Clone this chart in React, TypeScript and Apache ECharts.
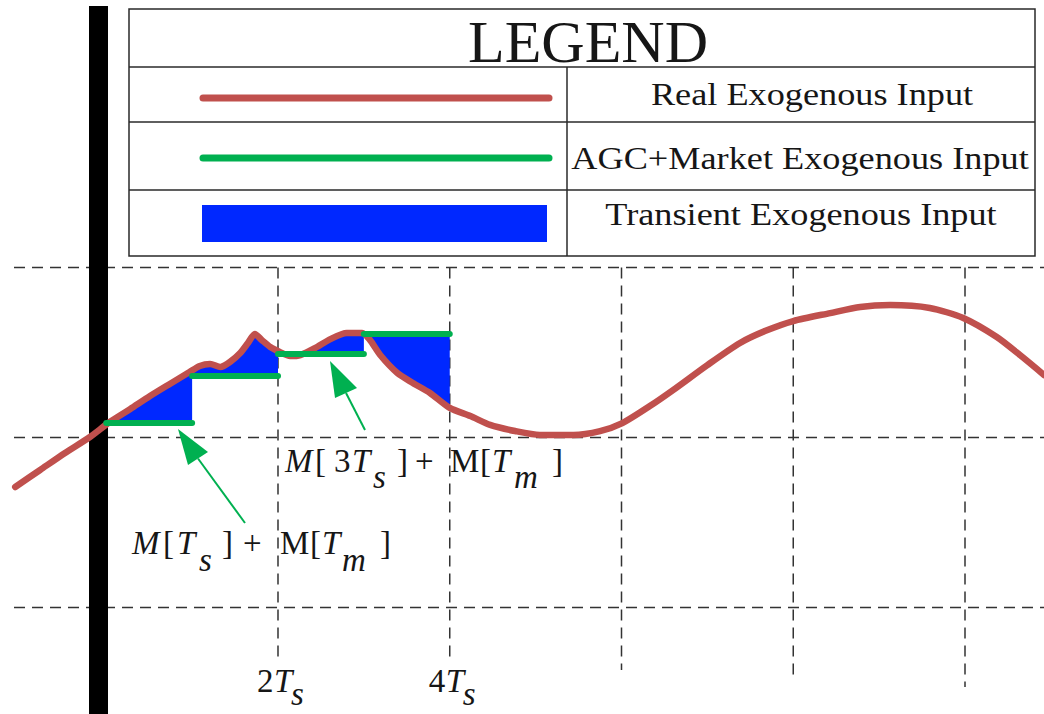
import React, { useEffect, useRef } from "react";
import * as echarts from "echarts";

const W = 1044;
const H = 714;

// Time in units of Ts, value in arbitrary units (grid lines at 0, 1, 2)
const redT = [-1.06, -0.77, -0.48, -0.19, 0.04, 0.28, 0.51, 0.74, 0.97, 1.09, 1.21, 1.33, 1.44, 1.56, 1.65, 1.73, 1.81, 1.91, 2.02, 2.14, 2.26, 2.43, 2.61, 2.8, 2.98, 3.07, 3.19, 3.39, 3.57, 3.77, 4.0, 4.24, 4.47, 4.76, 5.05, 5.44, 5.75, 6.01, 6.33, 6.6, 7.0, 7.38, 7.67, 8.0, 8.43, 8.78, 9.13, 9.59, 9.98, 10.37, 10.64, 10.92];
const redV = [0.709, 0.809, 0.909, 1.003, 1.091, 1.168, 1.244, 1.315, 1.385, 1.421, 1.432, 1.415, 1.444, 1.497, 1.556, 1.609, 1.574, 1.532, 1.503, 1.479, 1.485, 1.526, 1.579, 1.615, 1.615, 1.574, 1.485, 1.379, 1.321, 1.262, 1.174, 1.126, 1.074, 1.038, 1.015, 1.015, 1.038, 1.085, 1.185, 1.279, 1.426, 1.556, 1.626, 1.685, 1.732, 1.768, 1.779, 1.762, 1.703, 1.591, 1.485, 1.368];

const stepStarts = [0, 1, 2, 3];
const stepLevels = [1.085, 1.362, 1.491, 1.609];

const gridTimes = [2, 4, 6, 8, 10];
const gridLevels = [0, 1, 2];
const tickTimes = [2, 4];
const tickDigits = ["2", "4"];

const legendTitle = "LEGEND";
const legendLabels = ["Real Exogenous Input", "AGC+Market Exogenous Input", "Transient Exogenous Input"];

// axis extents (t = 0 at 106.25px, 85.875px per Ts; v = 0 at 607.5px, 170px per unit)
const X_MIN = -1.23726;
const X_MAX = 10.91994;
const Y_MIN = -0.62647;
const Y_MAX = 3.57353;

const BLUE = "#0028FF";
const RED = "#C0504D";
const GREEN = "#00B050";
const INK = "#161616";
const GRIDC = "#333333";
const FONT = '"Liberation Serif", "Times New Roman", serif';

export default function App() {
  const ref = useRef<HTMLDivElement>(null);

  useEffect(() => {
    const chart = echarts.init(ref.current!, null, { renderer: "svg" });
    const redData = redT.map((t, i) => [t, redV[i]]);
    const redAt = (t: number) => {
      for (let i = 0; i < redData.length - 1; i++) {
        const [a, va] = redData[i];
        const [b, vb] = redData[i + 1];
        if (t >= a && t <= b) return va + ((vb - va) * (t - a)) / (b - a);
      }
      return redData[redData.length - 1][1];
    };

    chart.setOption({
      animation: false,
      grid: { left: 0, right: 0, top: 0, bottom: 0 },
      xAxis: { type: "value", min: X_MIN, max: X_MAX, show: false },
      yAxis: { type: "value", min: Y_MIN, max: Y_MAX, show: false },
      series: [
        {
          type: "custom",
          z: 2,
          data: stepStarts.map((t, i) => [t, stepLevels[i]]),
          encode: { x: 0, y: 1 },
          renderItem: (params: any, api: any) => {
            const i = params.dataIndex;
            const t0 = stepStarts[i];
            const t1 = t0 + 1;
            const g = stepLevels[i];
            const pts: number[][] = [];
            pts.push(api.coord([t0, redAt(t0)]));
            redData.forEach(([t, v]) => {
              if (t > t0 && t < t1) pts.push(api.coord([t, v]));
            });
            pts.push(api.coord([t1, redAt(t1)]));
            pts.push(api.coord([t1, g]));
            pts.push(api.coord([t0, g]));
            return { type: "polygon", shape: { points: pts }, style: { fill: BLUE } };
          },
        },
        {
          type: "line",
          z: 3,
          data: redData,
          showSymbol: false,
          smooth: 0.25,
          lineStyle: { color: RED, width: 6.5, cap: "round", join: "round" },
        },
        {
          type: "custom",
          z: 4,
          data: stepStarts.map((t, i) => [t, stepLevels[i]]),
          encode: { x: 0, y: 1 },
          renderItem: (params: any, api: any) => {
            const i = params.dataIndex;
            const a = api.coord([stepStarts[i], stepLevels[i]]);
            const b = api.coord([stepStarts[i] + 1, stepLevels[i]]);
            return {
              type: "line",
              shape: { x1: a[0], y1: a[1], x2: b[0], y2: b[1] },
              style: { stroke: GREEN, lineWidth: 6, lineCap: "round" },
            };
          },
        },
      ],
    });

    const P = (t: number, v: number) => chart.convertToPixel({ gridIndex: 0 }, [t, v]) as number[];
    const els: any[] = [];
    const dash = { stroke: GRIDC, lineWidth: 1.5, lineDash: [11, 7] };

    gridLevels.forEach((v) => {
      const y = P(0, v)[1];
      els.push({ type: "line", z: 0, shape: { x1: 14, y1: y, x2: W, y2: y }, style: dash });
    });
    const vEnds = [660, 660, 670, 678, 687];
    const topY = P(0, 2)[1];
    gridTimes.forEach((t, i) => {
      const x = P(t, 0)[0];
      els.push({ type: "line", z: 0, shape: { x1: x, y1: topY, x2: x, y2: vEnds[i] }, style: dash });
    });

    // thick black vertical bar
    els.push({ type: "rect", z: 1, shape: { x: 89, y: 6, width: 19, height: H - 6 }, style: { fill: "#000" } });

    // legend box
    const lb = { stroke: "#2a2a2a", lineWidth: 1.5 };
    els.push({ type: "rect", z: 5, shape: { x: 129, y: 9, width: 906, height: 247 }, style: { fill: "#fff", ...lb } });
    [67, 122, 190].forEach((y) => els.push({ type: "line", z: 5, shape: { x1: 129, y1: y, x2: 1035, y2: y }, style: lb }));
    els.push({ type: "line", z: 5, shape: { x1: 567, y1: 67, x2: 567, y2: 256 }, style: lb });
    els.push({ type: "line", z: 6, shape: { x1: 203, y1: 98, x2: 549, y2: 98 }, style: { stroke: RED, lineWidth: 7, lineCap: "round" } });
    els.push({ type: "line", z: 6, shape: { x1: 203, y1: 158, x2: 549, y2: 158 }, style: { stroke: GREEN, lineWidth: 7, lineCap: "round" } });
    els.push({ type: "rect", z: 6, shape: { x: 202, y: 205, width: 345, height: 37 }, style: { fill: BLUE } });
    els.push({
      type: "text", z: 6, x: 588, y: 42,
      style: { text: legendTitle, font: `60px ${FONT}`, fill: INK, align: "center", verticalAlign: "middle" },
    });
    const lx = [812, 800, 801];
    const ly = [94, 158, 214];
    legendLabels.forEach((s, i) => {
      els.push({
        type: "text", z: 6, x: lx[i], y: ly[i], scaleX: 1.17,
        style: { text: s, font: `31px ${FONT}`, fill: INK, align: "center", verticalAlign: "middle" },
      });
    });

    // text helper: left x, baseline y
    const FS = 33;
    const piece = (text: string, x: number, base: number, italic: boolean, fs = FS) => ({
      type: "text", z: 8, x, y: base - 0.3375 * fs,
      style: { text, font: `${italic ? "italic " : ""}${fs}px ${FONT}`, fill: INK, align: "left", verticalAlign: "middle" },
    });

    // annotation 1: M[Ts] + M[Tm]
    const b1 = 554, s1 = 571;
    els.push(piece("M", 132, b1, true), piece("[", 163, b1, false), piece("T", 177, b1, true), piece("s", 199, s1, true),
      piece("]", 222, b1, false), piece("+", 243, b1, false), piece("M", 280, b1, false), piece("[", 310, b1, false),
      piece("T", 322, b1, true), piece("m", 342, s1, true), piece("]", 380, b1, false));
    // annotation 2: M[3Ts] + M[Tm]
    const b2 = 472, s2 = 488;
    els.push(piece("M", 285, b2, true), piece("[", 315, b2, false), piece("3", 334, b2, false), piece("T", 352, b2, true),
      piece("s", 373, s2, true), piece("]", 397, b2, false), piece("+", 415, b2, false), piece("M", 450, b2, false),
      piece("[", 480, b2, false), piece("T", 492, b2, true), piece("m", 514, s2, true), piece("]", 552, b2, false));

    // tick labels 2Ts, 4Ts
    tickTimes.forEach((t, i) => {
      const x = P(t, 0)[0];
      els.push(piece(tickDigits[i], x - 21, 692, false), piece("T", x - 4, 692, true), piece("s", x + 13, 705, true));
    });

    // arrows
    const arrow = (tip: number[], c1: number[], c2: number[], from: number[]) => {
      const mid = [(c1[0] + c2[0]) / 2, (c1[1] + c2[1]) / 2];
      els.push({ type: "line", z: 7, shape: { x1: from[0], y1: from[1], x2: mid[0], y2: mid[1] }, style: { stroke: GREEN, lineWidth: 2 } });
      els.push({ type: "polygon", z: 7, shape: { points: [tip, c1, c2] }, style: { fill: GREEN } });
    };
    arrow([178, 429], [208, 452], [188, 465], [245, 523]);
    arrow([330, 361], [357, 388], [335, 398], [365, 430]);

    chart.setOption({ graphic: { elements: els } });
    return () => chart.dispose();
  }, []);

  return <div ref={ref} style={{ position: "absolute", left: 0, top: 0, width: W, height: H }} />;
}
